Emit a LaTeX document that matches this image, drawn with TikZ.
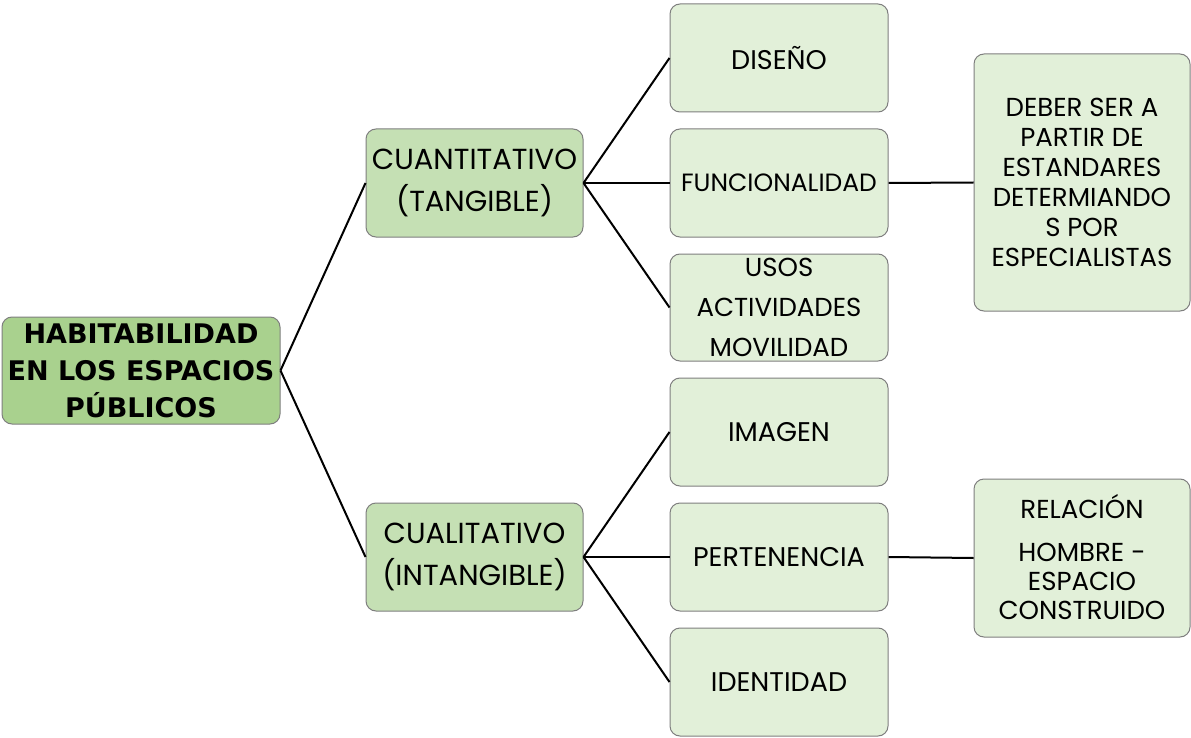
\documentclass[tikz,border=0pt]{standalone}
\usepackage{fontspec}
\setmainfont{Poppins}
\newfontfamily\titlefont{DejaVu Sans}
\definecolor{rootfill}{HTML}{A9D18E}
\definecolor{midfill}{HTML}{C5E0B4}
\definecolor{leaffill}{HTML}{E2F0D9}
\definecolor{edgegray}{HTML}{7F7F7F}
\tikzset{
  box/.style={draw=edgegray, line width=1pt, rounded corners=10pt, inner sep=0pt, align=center, text=black},
  rootbox/.style={box, fill=rootfill},
  midbox/.style={box, fill=midfill},
  leafbox/.style={box, fill=leaffill},
  link/.style={draw=black, line width=2pt},
}
\begin{document}
\begin{tikzpicture}[x=1pt,y=-1pt]
\useasboundingbox[fill=white] (0,0) rectangle (1191,738);
% root
\node[rootbox, minimum width=278pt, minimum height=107pt,
  font=\titlefont\bfseries\fontsize{27}{37}\selectfont] (root) at (141,370.5)
  {HABITABILIDAD\\EN LOS ESPACIOS\\PÚBLICOS};
% level 2
\node[midbox, minimum width=217pt, minimum height=108pt, font=\fontsize{29}{42}\selectfont] (cuant) at (474.5,183)
  {CUANTITATIVO\\(TANGIBLE)};
\node[midbox, minimum width=217pt, minimum height=108pt, font=\fontsize{29}{42}\selectfont] (cual) at (474.5,557)
  {CUALITATIVO\\(INTANGIBLE)};
% level 3
\node[leafbox, minimum width=218pt, minimum height=108pt, font=\fontsize{27}{30}\selectfont] (dis) at (779,58) {DISEÑO};
\node[leafbox, minimum width=218pt, minimum height=108pt, font=\fontsize{25}{30}\selectfont] (fun) at (779,183) {FUNCIONALIDAD};
\node[leafbox, minimum width=218pt, minimum height=107pt] (usos) at (779,307.5) {};
\node[align=center, inner sep=0pt, font=\fontsize{26}{40}\selectfont] (usostxt) at (usos.center)
  {USOS\\ACTIVIDADES\\MOVILIDAD};
\node[leafbox, minimum width=218pt, minimum height=108pt, font=\fontsize{27}{30}\selectfont] (img) at (779,432) {IMAGEN};
\node[leafbox, minimum width=218pt, minimum height=108pt, font=\fontsize{27}{30}\selectfont] (per) at (779,557) {PERTENENCIA};
\node[leafbox, minimum width=218pt, minimum height=108pt, font=\fontsize{27}{30}\selectfont] (ide) at (779,682) {IDENTIDAD};
% level 4
\node[leafbox, minimum width=216pt, minimum height=257pt, font=\fontsize{26}{30}\selectfont] (deb) at (1082,182.5)
  {DEBER SER A\\PARTIR DE\\ESTANDARES\\DETERMIANDO\\S POR\\ESPECIALISTAS};
\node[leafbox, minimum width=216pt, minimum height=158pt] (rel) at (1082,558) {};
\node[align=center, inner sep=0pt, font=\fontsize{26}{29}\selectfont] (reltxt) at (1082,557)
  {RELACIÓN\\[14pt]HOMBRE -\\ESPACIO\\CONSTRUIDO};
% connectors
\draw[link] (root.east) -- (cuant.west);
\draw[link] (root.east) -- (cual.west);
\draw[link] (cuant.east) -- (dis.west);
\draw[link] (cuant.east) -- (fun.west);
\draw[link] (cuant.east) -- (usos.west);
\draw[link] (cual.east) -- (img.west);
\draw[link] (cual.east) -- (per.west);
\draw[link] (cual.east) -- (ide.west);
\draw[link] (fun.east) -- (deb.west);
\draw[link] (per.east) -- (rel.west);
\end{tikzpicture}
\end{document}
